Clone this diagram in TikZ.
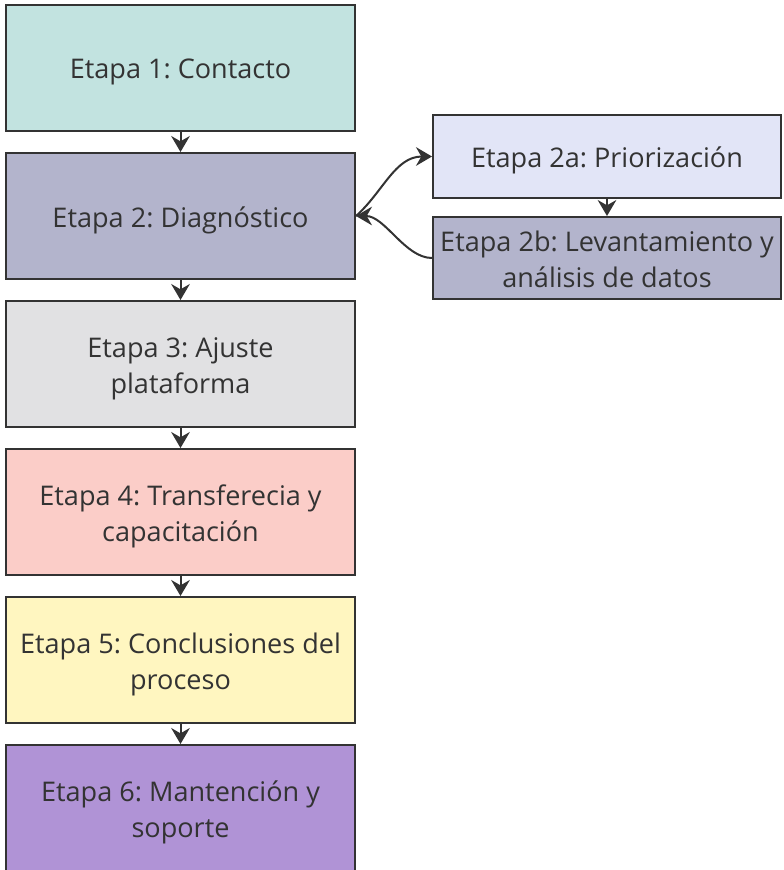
\documentclass[tikz,border=0pt]{standalone}
\usepackage{fontspec}
\setmainfont{Open Sans}
\usetikzlibrary{arrows.meta}
\frenchspacing
\definecolor{linea}{HTML}{333333}
\definecolor{cuno}{HTML}{C2E3E0}
\definecolor{cdos}{HTML}{B3B4CC}
\definecolor{ctres}{HTML}{E1E1E3}
\definecolor{ccuatro}{HTML}{FBCDC8}
\definecolor{ccinco}{HTML}{FFF6C0}
\definecolor{cseis}{HTML}{B093D6}
\definecolor{cdosa}{HTML}{E2E5F7}
\newcommand{\alza}{\rule{0pt}{23pt}}
\newcommand{\baja}{\rule[-6.5pt]{0pt}{6.5pt}}
\tikzset{
  etapa/.style={draw=linea, line width=1.5pt, text=linea, align=center,
    minimum width=261.75pt, minimum height=94.5pt, inner sep=0pt,
    font=\fontsize{20.3}{27}\selectfont},
  subetapa/.style={etapa, minimum width=261pt, minimum height=61.5pt},
  flecha/.style={draw=linea, line width=1.5pt,
    -{Stealth[length=12pt,width=14pt,inset=4pt]}}
}
\begin{document}
\begin{tikzpicture}[x=0.75pt,y=-0.75pt]
			\useasboundingbox (0,0) rectangle (784,870);

			% Las etapas
			\node[etapa, fill=cuno] (e1) at (180.5,68) {\alza Etapa 1: Contacto\baja};
			\node[etapa, fill=cdos] (e2) at (180.5,216) {\alza Etapa 2: Diagnóstico\baja};
			\node[etapa, fill=ctres] (e3) at (180.5,364) {\alza Etapa 3: Ajuste\\plataforma\baja};
			\node[etapa, fill=ccuatro] (e4) at (180.5,512) {\alza Etapa 4: Transferecia y\\capacitación\baja};
			\node[etapa, fill=ccinco] (e5) at (180.5,660) {\alza Etapa 5: Conclusiones del\\proceso\baja};
			\node[etapa, fill=cseis] (e6) at (180.5,808) {\alza Etapa 6: Mantención y\\soporte\baja};

			% Las subetapas
			\node[subetapa, fill=cdosa] (e2a) at (607,156.5) {\alza Etapa 2a: Priorización\baja};
			\node[subetapa, fill=cdos] (e2b) at (607,258) {\alza Etapa 2b: Levantamiento y\\análisis de datos\baja};

			% Las flechas
			\draw[flecha] (e1) -- (e2);
			\draw[flecha] (e2) -- (e3);
			\draw[flecha] (e3) -- (e4);
			\draw[flecha] (e4) -- (e5);
			\draw[flecha] (e5) -- (e6);
			\draw[flecha] (e2a) -- (e2b);
			\draw[flecha] (e2.east) .. controls (383,192) and (395,156.5) .. (e2a.west);
			\draw[flecha] (e2b.west) .. controls (405,258) and (385,216) .. (e2.east);
		\end{tikzpicture}
\end{document}
